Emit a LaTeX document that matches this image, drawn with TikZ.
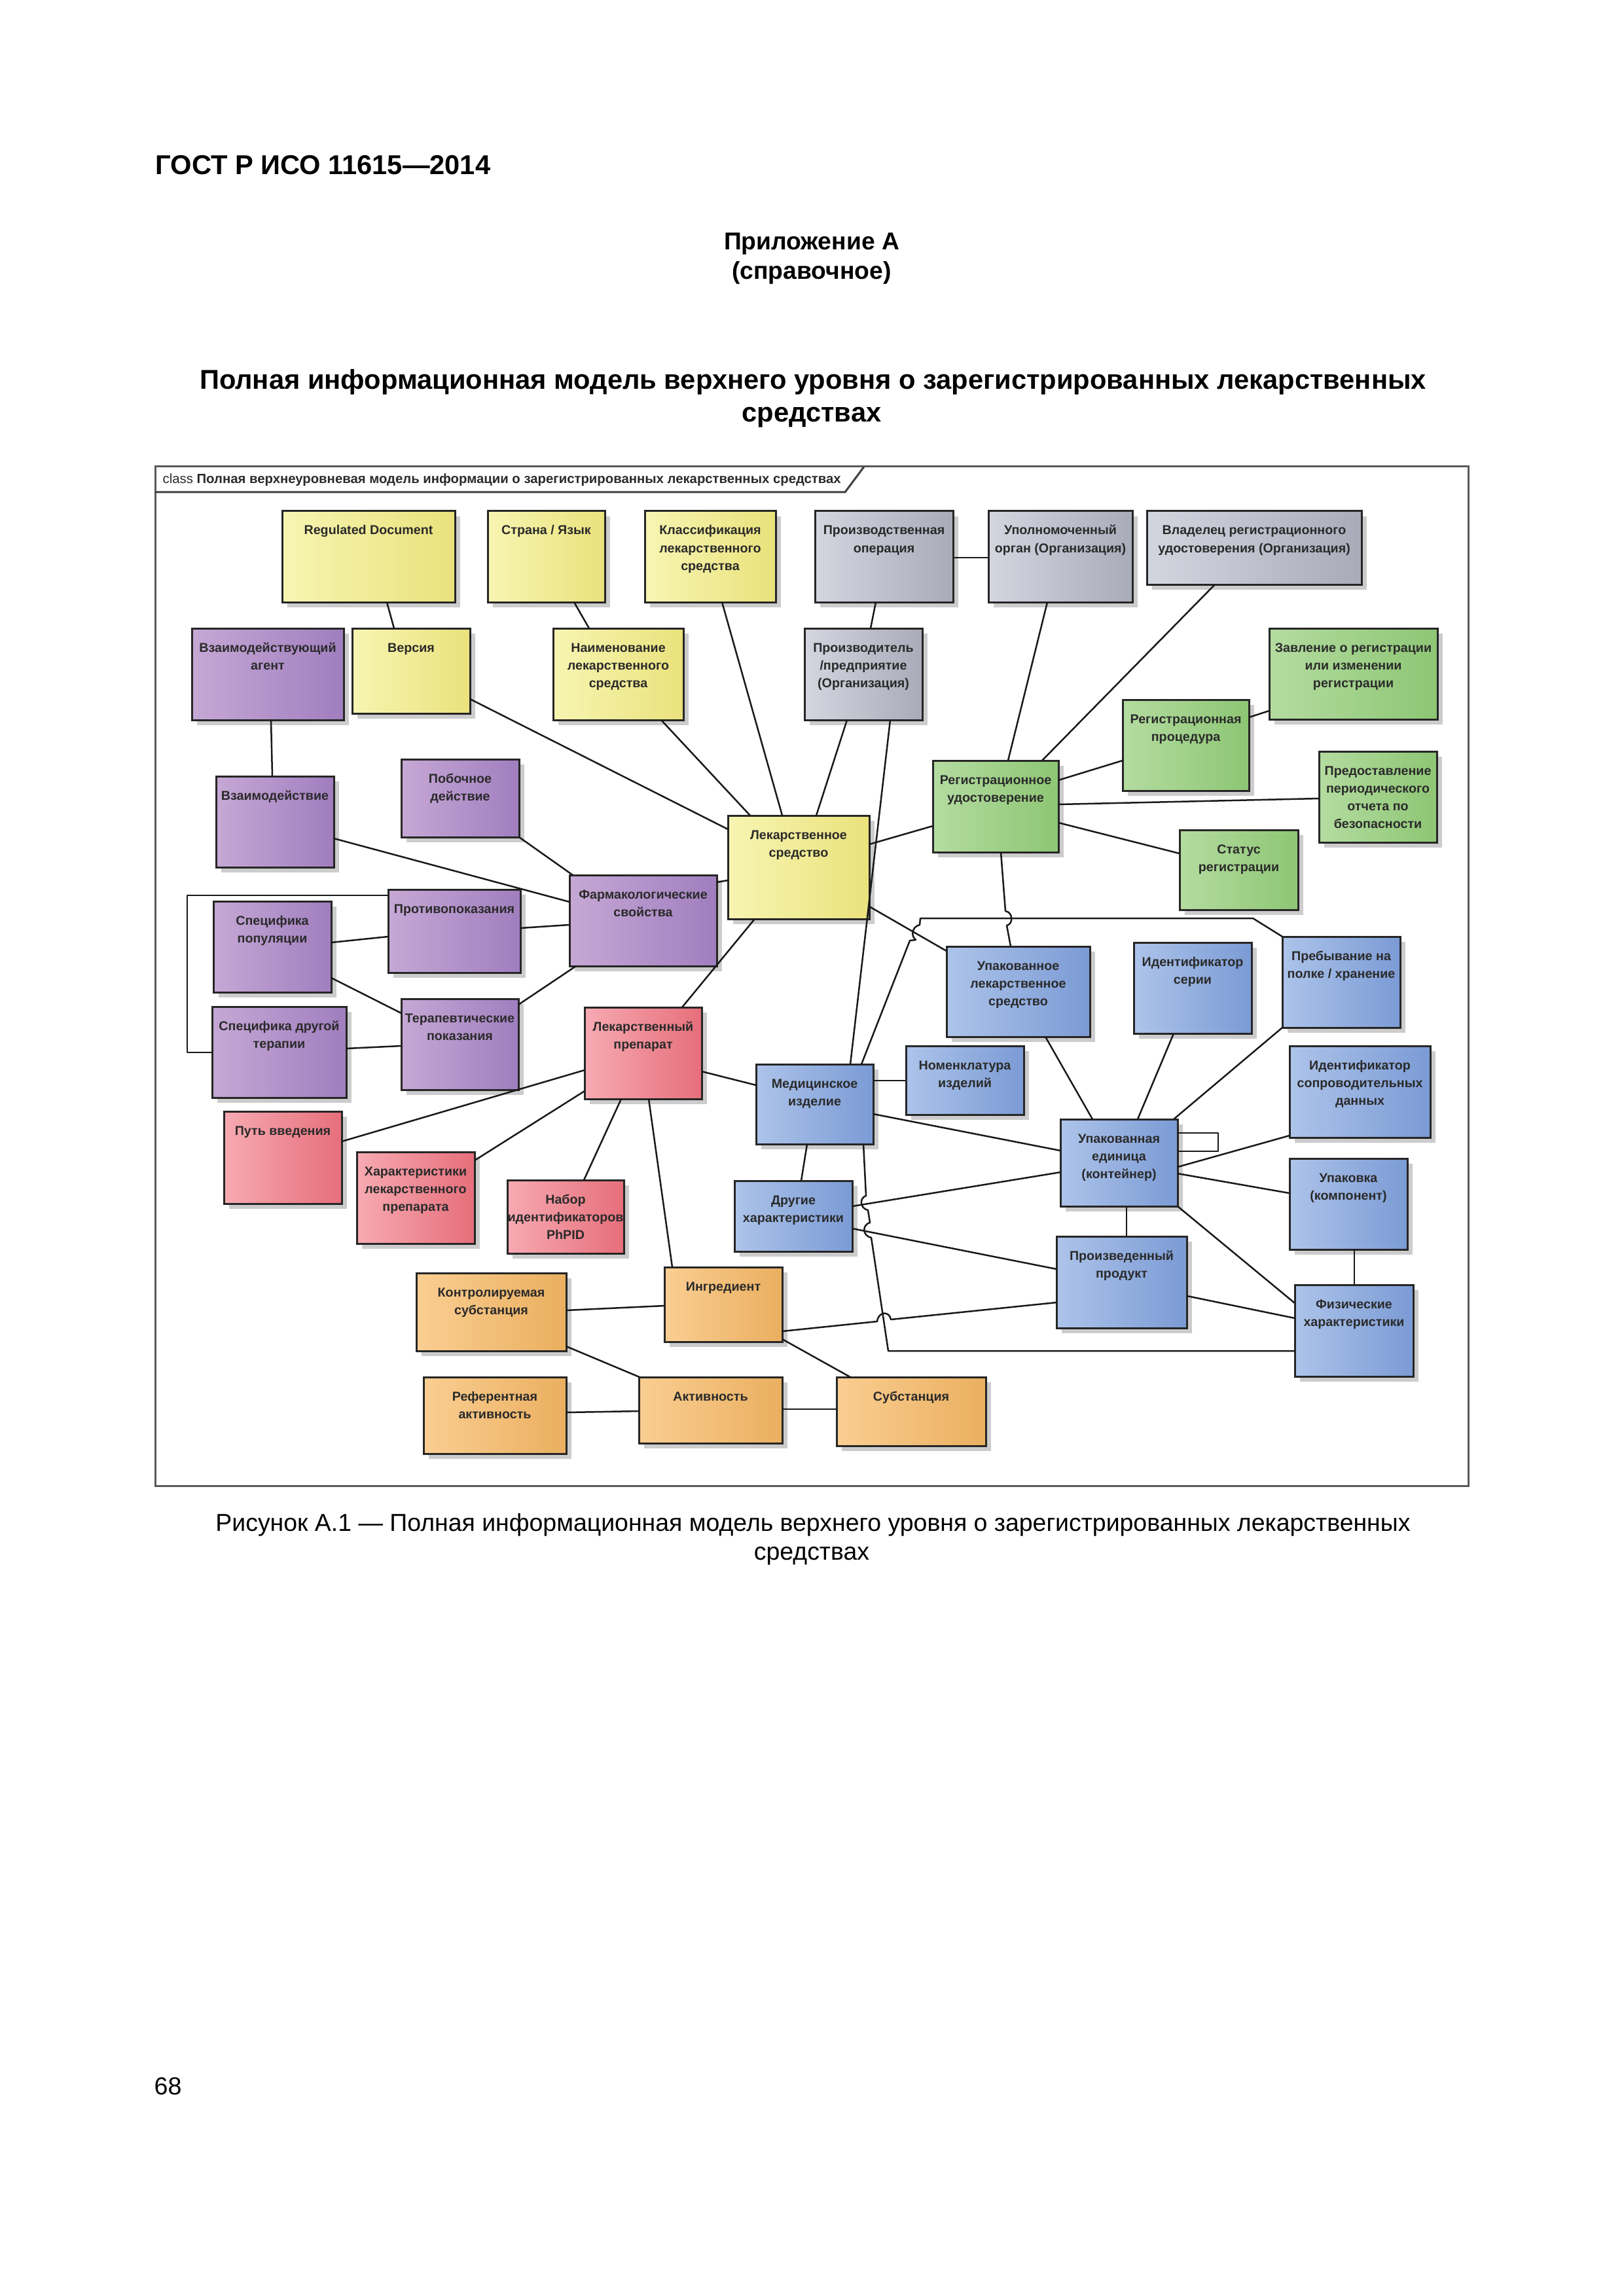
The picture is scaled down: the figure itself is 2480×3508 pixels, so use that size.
\documentclass[tikz,border=0pt]{standalone}
\usepackage{fontspec}
\setmainfont{Liberation Sans}
\usetikzlibrary{shadows}
\definecolor{yelL}{HTML}{F7F5B2}\definecolor{yelR}{HTML}{EAE27C}
\definecolor{purL}{HTML}{C6A8D5}\definecolor{purR}{HTML}{A07EBF}
\definecolor{gryL}{HTML}{D3D5DF}\definecolor{gryR}{HTML}{A9ABB9}
\definecolor{grnL}{HTML}{B4DCA0}\definecolor{grnR}{HTML}{8DC674}
\definecolor{bluL}{HTML}{ADC4EA}\definecolor{bluR}{HTML}{7B9BD5}
\definecolor{redL}{HTML}{F7AAB2}\definecolor{redR}{HTML}{E66F7B}
\definecolor{orgL}{HTML}{FACE92}\definecolor{orgR}{HTML}{EAAF5F}
\definecolor{txt}{HTML}{2A2A2A}
\definecolor{frm}{HTML}{5A5A5A}
\tikzset{
  dbox/.style={draw=black!85, line width=0.3mm, inner sep=0pt, outer sep=0pt, anchor=north west,
    drop shadow={shadow xshift=0.8mm, shadow yshift=-0.8mm, fill=black, opacity=0.2}},
  yel/.style={dbox, left color=yelL, right color=yelR},
  pur/.style={dbox, left color=purL, right color=purR},
  gry/.style={dbox, left color=gryL, right color=gryR},
  grn/.style={dbox, left color=grnL, right color=grnR},
  blu/.style={dbox, left color=bluL, right color=bluR},
  red/.style={dbox, left color=redL, right color=redR},
  org/.style={dbox, left color=orgL, right color=orgR},
  conn/.style={draw=black!90, line width=0.25mm, line join=round},
  pagetext/.style={inner sep=0pt, anchor=base},
}
\newcommand\mkbox[7]{%
  \node[#2] (#1) at (#3,#4) {\parbox[t][\dimexpr0.1mm*#6\relax][t]{\dimexpr0.1mm*#5\relax}{\centering\fontsize{5.6}{7.7}\selectfont\bfseries\color{txt}\rule{0pt}{3.6mm}#7\par}};}
\begin{document}
\begin{tikzpicture}[x=0.1mm,y=-0.1mm]
\fill[white] (0,0) rectangle (2480,3508);
\useasboundingbox (0,0) rectangle (2480,3508);

% page texts
\node[pagetext, anchor=base west] (hdr) at (237,267) {\fontsize{11.85}{14}\selectfont\bfseries ГОСТ Р ИСО 11615—2014};
\node[pagetext] (app) at (1240,382) {\fontsize{10.6}{13}\selectfont\bfseries Приложение А};
\node[pagetext] (spr) at (1240,427) {\fontsize{10.6}{13}\selectfont\bfseries (справочное)};
\node[pagetext] (ttl1) at (1242,595) {\fontsize{11.85}{14}\selectfont\bfseries Полная информационная модель верхнего уровня о зарегистрированных лекарственных};
\node[pagetext] (ttl2) at (1240,645) {\fontsize{11.85}{14}\selectfont\bfseries средствах};
\node[pagetext] (cap1) at (1242,2339) {\fontsize{10.65}{13}\selectfont Рисунок А.1 — Полная информационная модель верхнего уровня о зарегистрированных лекарственных};
\node[pagetext] (cap2) at (1240,2383) {\fontsize{10.65}{13}\selectfont средствах};
\node[pagetext, anchor=base west] (pg) at (235,3200) {\fontsize{10.7}{13}\selectfont 68};

% frame
\draw[frm, line width=0.3mm] (237,713) rectangle (2243,2270);
\draw[frm!70!black, line width=0.3mm] (237,752) -- (1291,752) -- (1320,713);
\node[inner sep=0pt, anchor=west] (cls) at (248,733) {\resizebox{103.6mm}{!}{\fontsize{5.5}{6}\selectfont\color{txt}class \bfseries Полная верхнеуровневая модель информации о зарегистрированных лекарственных средствах}};

% boxes
\mkbox{rd}{yel}{431}{781}{264}{139}{Regulated Document}
\mkbox{sl}{yel}{745}{781}{179}{139}{Страна / Язык}
\mkbox{kl}{yel}{985}{781}{200}{139}{Классификация\\лекарственного\\средства}
\mkbox{po}{gry}{1245}{781}{211}{139}{Производственная\\операция}
\mkbox{uo}{gry}{1510}{781}{220}{139}{Уполномоченный\\орган (Организация)}
\mkbox{vl}{gry}{1752}{781}{328}{112}{Владелец регистрационного\\удостоверения (Организация)}
\mkbox{va}{pur}{293}{960}{232}{140}{Взаимодействующий\\агент}
\mkbox{ve}{yel}{538}{960}{180}{130}{Версия}
\mkbox{nm}{yel}{845}{960}{199}{140}{Наименование\\лекарственного\\средства}
\mkbox{pr}{gry}{1229}{960}{180}{140}{Производитель\\/предприятие\\(Организация)}
\mkbox{za}{grn}{1939}{960}{257}{139}{Завление о регистрации\\или изменении\\регистрации}
\mkbox{rp}{grn}{1715}{1069}{193}{139}{Регистрационная\\процедура}
\mkbox{vz}{pur}{330}{1186}{180}{139}{Взаимодействие}
\mkbox{pd}{pur}{613}{1160}{180}{119}{Побочное\\действие}
\mkbox{ru}{grn}{1425}{1162}{192}{140}{Регистрационное\\удостоверение}
\mkbox{pp}{grn}{2015}{1148}{180}{139}{Предоставление\\периодического\\отчета по\\безопасности}
\mkbox{ls}{yel}{1112}{1246}{216}{158}{Лекарственное\\средство}
\mkbox{st}{grn}{1802}{1268}{181}{122}{Статус\\регистрации}
\mkbox{fs}{pur}{870}{1337}{225}{139}{Фармакологические\\свойства}
\mkbox{pk}{pur}{593}{1359}{202}{127}{Противопоказания}
\mkbox{sp}{pur}{326}{1377}{180}{139}{Специфика\\популяции}
\mkbox{ul}{blu}{1446}{1446}{219}{138}{Упакованное\\лекарственное\\средство}
\mkbox{is}{blu}{1732}{1440}{180}{139}{Идентификатор\\серии}
\mkbox{ph}{blu}{1959}{1431}{180}{139}{Пребывание на\\полке / хранение}
\mkbox{sd}{pur}{324}{1538}{205}{139}{Специфика другой\\терапии}
\mkbox{tp}{pur}{613}{1526}{179}{139}{Терапевтические\\показания}
\mkbox{lp}{red}{893}{1539}{179}{140}{Лекарственный\\препарат}
\mkbox{mi}{blu}{1155}{1626}{179}{122}{Медицинское\\изделие}
\mkbox{ni}{blu}{1384}{1598}{180}{105}{Номенклатура\\изделий}
\mkbox{ic}{blu}{1970}{1598}{215}{140}{Идентификатор\\сопроводительных\\данных}
\mkbox{pv}{red}{342}{1698}{180}{141}{Путь введения}
\mkbox{hl}{red}{545}{1760}{180}{140}{Характеристики\\лекарственного\\препарата}
\mkbox{nb}{red}{775}{1803}{178}{112}{Набор\\идентификаторов\\PhPID}
\mkbox{ue}{blu}{1620}{1710}{179}{133}{Упакованная\\единица\\(контейнер)}
\mkbox{dh}{blu}{1122}{1804}{180}{108}{Другие\\характеристики}
\mkbox{uk}{blu}{1970}{1770}{180}{139}{Упаковка\\(компонент)}
\mkbox{pz}{blu}{1614}{1889}{199}{140}{Произведенный\\продукт}
\mkbox{fh}{blu}{1978}{1963}{181}{140}{Физические\\характеристики}
\mkbox{ks}{org}{636}{1945}{229}{119}{Контролируемая\\субстанция}
\mkbox{ing}{org}{1015}{1936}{180}{114}{Ингредиент}
\mkbox{ra}{org}{647}{2104}{218}{117}{Референтная\\активность}
\mkbox{ak}{org}{976}{2104}{219}{101}{Активность}
\mkbox{su}{org}{1278}{2104}{228}{105}{Субстанция}

% connectors
\draw[conn] (rd.south -| 591,0) -- (ve.north -| 602,0);
\draw[conn] (sl.south -| 877,0) -- (nm.north -| 900,0);
\draw[conn] (kl.south -| 1103,0) -- (ls.north -| 1195,0);
\draw[conn] (ve.east |- 0,1068) -- (ls.west |- 0,1267);
\draw[conn] (nm.south -| 1010,0) -- (ls.north -| 1146,0);
\draw[conn] (va.south -| 414,0) -- (vz.north -| 416,0);
\draw[conn] (vz.east |- 0,1281) -- (fs.west |- 0,1378);
\draw[conn] (pd.south east) -- (fs.north -| 875,0);
\draw[conn] (pk.east |- 0,1418) -- (fs.west |- 0,1413);
\draw[conn] (sp.east |- 0,1440) -- (pk.west |- 0,1431);
\draw[conn] (sp.east |- 0,1494) -- (tp.west |- 0,1548);
\draw[conn] (sd.east |- 0,1602) -- (tp.west |- 0,1598);
\draw[conn] (tp.east |- 0,1535) -- (fs.south -| 880,0);
\draw[conn] (pk.west |- 0,1368) -- (286,1368) -- (286,1608) -- (sd.west |- 0,1608);
\draw[conn] (fs.east |- 0,1348) -- (ls.west |- 0,1345);
\draw[conn] (ls.south -| 1153,0) -- (lp.north -| 1042,0);
\draw[conn] (lp.west |- 0,1635) -- (pv.east |- 0,1744);
\draw[conn] (lp.west |- 0,1667) -- (hl.east |- 0,1773);
\draw[conn] (lp.south -| 949,0) -- (nb.north -| 892,0);
\draw[conn] (lp.south -| 991,0) -- (ing.north -| 1027,0);
\draw[conn] (lp.east |- 0,1637) -- (mi.west |- 0,1658);
\draw[conn] (ks.east |- 0,2002) -- (ing.west |- 0,1995);
\draw[conn] (ks.east |- 0,2057) -- (ak.north -| 977,0);
\draw[conn] (ra.east |- 0,2158) -- (ak.west |- 0,2156);
\draw[conn] (ak.east |- 0,2153) -- (su.west |- 0,2153);
\draw[conn] (ing.east |- 0,2046) -- (su.north -| 1299,0);
\draw[conn] (ing.east |- 0,2034) -- (1340,2019) .. controls (1342,2003) and (1359,2003) .. (1361,2016) -- (pz.west |- 0,1990);
\draw[conn] (mi.east |- 0,1702) -- (ue.west |- 0,1758);
\draw[conn] (mi.south -| 1233,0) -- (dh.north -| 1224,0);
\draw[conn] (mi.south -| 1319,0) -- (1323,1827) .. controls (1313,1830) and (1313,1846) .. (1326,1849) -- (1329,1868) .. controls (1317,1871) and (1317,1888) .. (1331,1891) -- (1357,2064) -- (fh.west |- 0,2064);
\draw[conn] (mi.north -| 1316,0) -- (1390,1437) -- (1399,1436) .. controls (1391,1430) and (1393,1416) .. (1405,1413) -- (1406,1403) -- (1914,1403) -- (ph.north west);
\draw[conn] (ls.east |- 0,1385) -- (ul.west |- 0,1453);
\draw[conn] (ru.south -| 1529,0) -- (1536,1392) .. controls (1548,1394) and (1548,1412) .. (1538,1414) -- (ul.north -| 1544,0);
\draw[conn] (pr.south -| 1360,0) -- (mi.north -| 1299,0);
\draw[conn] (pr.south -| 1294,0) -- (ls.north -| 1247,0);
\draw[conn] (ls.east |- 0,1290) -- (ru.west |- 0,1262);
\draw[conn] (ru.east |- 0,1192) -- (rp.west |- 0,1162);
\draw[conn] (rp.east |- 0,1096) -- (za.west |- 0,1086);
\draw[conn] (ru.east |- 0,1229) -- (pp.west |- 0,1220);
\draw[conn] (ru.east |- 0,1257) -- (st.west |- 0,1304);
\draw[conn] (uo.south -| 1600,0) -- (ru.north -| 1540,0);
\draw[conn] (vl.south -| 1856,0) -- (ru.north -| 1592,0);
\draw[conn] (po.east |- 0,852) -- (uo.west |- 0,852);
\draw[conn] (po.south -| 1338,0) -- (pr.north -| 1330,0);
\draw[conn] (ul.south -| 1597,0) -- (ue.north -| 1669,0);
\draw[conn] (is.south -| 1793,0) -- (ue.north -| 1738,0);
\draw[conn] (ph.south west) -- (ue.north -| 1793,0);
\draw[conn] (ic.west |- 0,1735) -- (ue.east |- 0,1783);
\draw[conn] (ue.east |- 0,1793) -- (uk.west |- 0,1823);
\draw[conn] (ue.south -| 1721,0) -- (pz.north -| 1721,0);
\draw[conn] (ue.south east) -- (fh.west |- 0,1991);
\draw[conn] (uk.south -| 2069,0) -- (fh.north -| 2069,0);
\draw[conn] (pz.east |- 0,1980) -- (fh.west |- 0,2014);
\draw[conn] (dh.east |- 0,1843) -- (ue.west |- 0,1791);
\draw[conn] (dh.east |- 0,1877) -- (pz.west |- 0,1939);
\draw[conn] (ue.east |- 0,1731) -- (1861,1731) -- (1861,1759) -- (ue.east |- 0,1759);
\draw[conn] (mi.east |- 0,1651) -- (ni.west |- 0,1651);
\end{tikzpicture}
\end{document}
